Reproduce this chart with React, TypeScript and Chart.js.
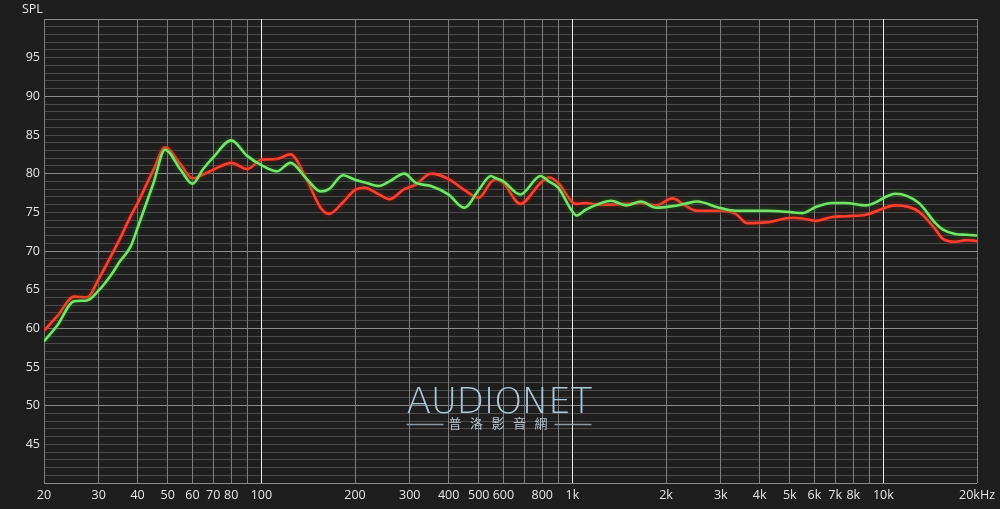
import React, { useEffect, useRef } from "react";
import { Chart, registerables } from "chart.js";

Chart.register(...registerables);

// ---- data ----
const freqs = [
  20, 22, 25, 27.5, 30, 33, 35, 38, 40, 45, 49, 55, 60, 65, 70, 80, 90, 100, 112, 124,
  140, 155, 165, 183, 200, 214, 239, 258, 288, 314, 351, 400, 449, 500, 547, 568, 600, 680, 790, 840,
  900, 1000, 1030, 1100, 1200, 1330, 1490, 1660, 1860, 2100, 2300, 2520, 2960, 3350, 3650, 4200, 5100, 5500, 6060, 6850,
  7570, 8780, 10960, 13000, 14700, 15500, 17000, 18500, 20000,
];
const splRed = [
  59.7, 61.5, 64.1, 64.0, 66.4, 69.5, 71.5, 74.5, 76.2, 80.5, 83.4, 81.2, 79.4, 79.9, 80.5, 81.4, 80.6, 81.8, 81.9, 82.5,
  79.2, 75.6, 74.8, 76.3, 77.9, 78.2, 77.3, 76.7, 78.0, 78.6, 80.0, 79.3, 77.9, 76.9, 78.9, 79.3, 78.8, 76.1, 78.8, 79.5,
  78.8, 76.3, 76.1, 76.2, 76.0, 76.0, 76.1, 76.2, 75.9, 76.8, 75.9, 75.2, 75.2, 74.8, 73.6, 73.7, 74.3, 74.2, 73.9, 74.4,
  74.5, 74.7, 75.9, 75.1, 72.8, 71.6, 71.2, 71.4, 71.3,
];
const splGreen = [
  58.3, 60.3, 63.5, 63.6, 64.9, 67.0, 68.6, 70.6, 73.0, 78.8, 83.1, 80.5, 78.7, 80.6, 82.1, 84.3, 82.3, 81.1, 80.3, 81.4,
  79.3, 77.7, 78.0, 79.8, 79.2, 78.9, 78.4, 79.0, 80.0, 78.8, 78.4, 77.3, 75.6, 77.9, 79.7, 79.4, 79.0, 77.3, 79.7, 79.0,
  78.2, 75.1, 74.6, 75.3, 76.0, 76.5, 75.9, 76.4, 75.6, 75.8, 76.1, 76.4, 75.6, 75.2, 75.2, 75.2, 75.0, 74.9, 75.7, 76.2,
  76.2, 75.9, 77.4, 76.2, 73.6, 72.8, 72.2, 72.1, 72.0,
];
const xTickValues = [
  20, 30, 40, 50, 60, 70, 80, 90, 100,
  200, 300, 400, 500, 600, 700, 800, 900, 1000,
  2000, 3000, 4000, 5000, 6000, 7000, 8000, 9000, 10000, 20000,
];
const xHiddenLabels = [90, 700, 900, 9000];
const xDecadeLines = [100, 1000, 10000];
const yMin = 40;
const yMax = 100;
const yAxisTitle = "SPL";
const watermarkTitle = "AUDIONET";
const watermarkSub = "普洛影音網";

function xLabel(v: number): string {
  if (xHiddenLabels.includes(v)) return "";
  if (v === 20000) return "20kHz";
  if (v >= 1000) return v / 1000 + "k";
  return String(v);
}

function drawSpaced(ctx: CanvasRenderingContext2D, text: string, x0: number, x1: number, y: number) {
  const chars = Array.from(text);
  const widths = chars.map((c) => ctx.measureText(c).width);
  const sum = widths.reduce((a, b) => a + b, 0);
  const gap = chars.length > 1 ? (x1 - x0 - sum) / (chars.length - 1) : 0;
  let x = x0;
  chars.forEach((c, i) => {
    ctx.fillText(c, x, y);
    x += widths[i] + gap;
  });
}

const FONT = '"Open Sans", "DejaVu Sans", sans-serif';
const BG = "#1e1e1e";

export default function App() {
  const ref = useRef<HTMLCanvasElement | null>(null);

  useEffect(() => {
    const canvas = ref.current;
    if (!canvas) return;

    const bgPlugin = {
      id: "bgPlugin",
      beforeDraw(chart: any) {
        const { ctx, width, height } = chart;
        ctx.save();
        ctx.fillStyle = BG;
        ctx.fillRect(0, 0, width, height);
        ctx.restore();
      },
    };

    const glowPlugin = {
      id: "glowPlugin",
      beforeDatasetDraw(chart: any, args: any) {
        const ctx = chart.ctx;
        ctx.save();
        const ds = chart.data.datasets[args.index] as any;
        ctx.shadowColor = ds.glowColor;
        ctx.shadowBlur = 4;
      },
      afterDatasetDraw(chart: any) {
        chart.ctx.restore();
      },
    };

    const decorPlugin = {
      id: "decorPlugin",
      afterDraw(chart: any) {
        const { ctx, chartArea } = chart;
        ctx.save();
        ctx.fillStyle = "#e6e6e6";
        ctx.font = `12.5px ${FONT}`;
        ctx.textAlign = "left";
        ctx.textBaseline = "middle";
        ctx.fillText(yAxisTitle, chartArea.left - 22, chartArea.top - 10);

        const cx = (chartArea.left + chartArea.right) / 2;
        ctx.textBaseline = "alphabetic";
        ctx.fillStyle = "#a9c8da";
        ctx.font = `200 36px "DejaVu Sans", Lato, sans-serif`;
        drawSpaced(ctx, watermarkTitle, cx - 104, cx + 82, 412.5);

        ctx.fillStyle = "#b7c3cb";
        ctx.font = `13px "Noto Sans CJK TC", sans-serif`;
        drawSpaced(ctx, watermarkSub, cx - 62, cx + 37, 428);

        ctx.strokeStyle = "#8b9ba6";
        ctx.lineWidth = 1.3;
        ctx.beginPath();
        ctx.moveTo(cx - 104, 424.5);
        ctx.lineTo(cx - 67, 424.5);
        ctx.moveTo(cx + 44, 424.5);
        ctx.lineTo(cx + 81, 424.5);
        ctx.stroke();
        ctx.restore();
      },
    };

    const chart = new Chart(canvas, {
      type: "line",
      data: {
        datasets: [
          {
            label: "Green",
            data: freqs.map((f, i) => ({ x: f, y: splGreen[i] })),
            borderColor: "#74e46a",
            glowColor: "rgba(30,110,25,0.9)",
            borderWidth: 2.6,
            pointRadius: 0,
            cubicInterpolationMode: "monotone",
            fill: false,
          } as any,
          {
            label: "Red",
            data: freqs.map((f, i) => ({ x: f, y: splRed[i] })),
            borderColor: "#ff4030",
            glowColor: "rgba(150,20,10,0.9)",
            borderWidth: 2.6,
            pointRadius: 0,
            cubicInterpolationMode: "monotone",
            fill: false,
          } as any,
        ],
      },
      options: {
        responsive: false,
        animation: false,
        layout: { padding: { top: 19, right: 22, left: 0, bottom: 0 } },
        plugins: {
          legend: { display: false },
          tooltip: { enabled: false },
        },
        scales: {
          x: {
            type: "logarithmic",
            min: 20,
            max: 20000,
            afterBuildTicks: (s: any) => {
              s.ticks = xTickValues.map((v) => ({ value: v }));
            },
            afterFit: (s: any) => {
              s.height = 26;
            },
            ticks: {
              autoSkip: false,
              maxRotation: 0,
              minRotation: 0,
              padding: 5,
              color: "#e6e6e6",
              font: { family: FONT, size: 12.5 },
              callback: (v: any) => xLabel(Number(v)),
            },
            grid: {
              z: -1,
              drawTicks: false,
              lineWidth: 1,
              color: (c: any) =>
                c.tick && xDecadeLines.includes(c.tick.value) ? "#f0f0f0" : "#7c7c7c",
            },
            border: { display: false },
          },
          y: {
            type: "linear",
            min: yMin,
            max: yMax,
            afterBuildTicks: (s: any) => {
              const t = [];
              for (let v = yMin; v <= yMax; v++) t.push({ value: v });
              s.ticks = t;
            },
            afterFit: (s: any) => {
              s.width = 44;
            },
            ticks: {
              autoSkip: false,
              padding: 4,
              color: "#e6e6e6",
              font: { family: FONT, size: 12.5 },
              callback: (v: any) => {
                const n = Number(v);
                return n % 5 === 0 && n !== yMin && n !== yMax ? String(n) : "";
              },
            },
            grid: {
              z: -2,
              drawTicks: false,
              lineWidth: 1,
              color: (c: any) => (c.tick && c.tick.value % 10 === 0 ? "#8a8a8a" : "#4b4b4b"),
            },
            border: { display: false },
          },
        },
      } as any,
      plugins: [bgPlugin, glowPlugin, decorPlugin],
    });

    return () => chart.destroy();
  }, []);

  return (
    <div style={{ position: "absolute", left: 0, top: 0, width: 1000, height: 509, background: BG }}>
      <canvas ref={ref} width={1000} height={509} style={{ display: "block" }} />
    </div>
  );
}
